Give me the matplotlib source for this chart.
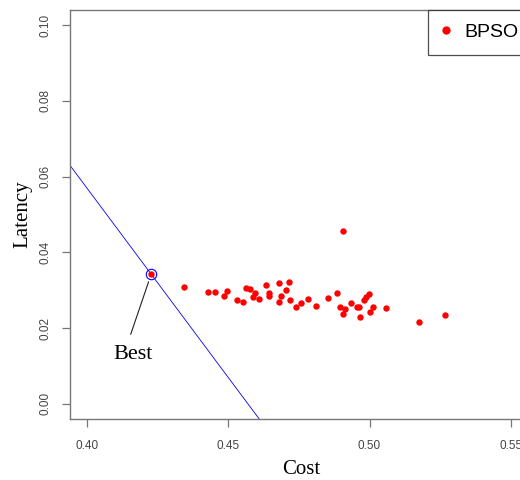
import matplotlib.pyplot as plt

# Pareto front from BPSO (cost vs latency)
cost = [0.4228, 0.4342, 0.4430, 0.4452, 0.4494, 0.4484, 0.4564, 0.4576, 0.4593,
        0.4588, 0.4608, 0.4531, 0.4552, 0.4632, 0.4644, 0.4644, 0.4680, 0.4714,
        0.4705, 0.4688, 0.4679, 0.4720, 0.4757, 0.4741, 0.4781, 0.4812, 0.4852,
        0.4906, 0.4885, 0.4896, 0.4913, 0.4907, 0.4935, 0.4954, 0.4962, 0.4968,
        0.4979, 0.4989, 0.4999, 0.5011, 0.5001, 0.5058, 0.5175, 0.5267]
latency = [0.03417, 0.03082, 0.02958, 0.02943, 0.02969, 0.02845, 0.03064, 0.03022,
           0.02916, 0.02811, 0.02766, 0.02748, 0.02695, 0.03135, 0.02932, 0.02845,
           0.03188, 0.03206, 0.03003, 0.02853, 0.02687, 0.02732, 0.02653, 0.02563,
           0.02766, 0.02582, 0.02792, 0.04557, 0.02916, 0.02555, 0.02503, 0.02371,
           0.02669, 0.02547, 0.02563, 0.02292, 0.02748, 0.02811, 0.02898, 0.02563,
           0.02416, 0.02537, 0.02152, 0.02337]
best_cost, best_latency = 0.4228, 0.03417
x_ticks = [0.40, 0.45, 0.50, 0.55]
y_ticks = [0.00, 0.02, 0.04, 0.06, 0.08, 0.10]

fig = plt.figure(figsize=(5.2, 4.8), dpi=100)
ax = fig.add_axes([70 / 520, 61 / 480, 462 / 520, 409 / 480])

ax.plot(cost, latency, 'o', color='red', markersize=4.6, markeredgewidth=0,
        label='BPSO', zorder=3)
ax.plot(best_cost, best_latency, 'o', mfc='none', mec='blue', markersize=7.5,
        markeredgewidth=0.8, zorder=4)
ax.axline((best_cost, best_latency), slope=-1, color='blue', lw=0.6)

# leader line and label for the best point
ax.plot([0.4155, 0.4218], [0.0184, 0.0322], color='#222222', lw=0.8)
ax.text(0.4163, 0.0129, 'Best', family='Liberation Serif', fontsize=16,
        ha='center', va='center')

ax.set_xlim(0.394, 0.5575)
ax.set_ylim(-0.004, 0.104)
ax.set_xticks(x_ticks)
ax.set_xticklabels(['%.2f' % t for t in x_ticks])
ax.set_yticks(y_ticks)
ax.set_yticklabels(['%.2f' % t for t in y_ticks], rotation=90, va='center')

for lab in ax.get_xticklabels() + ax.get_yticklabels():
    lab.set_family('Liberation Sans')
    lab.set_fontsize(8.5)
    lab.set_color('#444444')
ax.tick_params(length=6, width=0.9, color='#777777', pad=9)
ax.tick_params(axis='y', pad=7)
for s in ax.spines.values():
    s.set_color('#777777')
    s.set_linewidth(1.0)

ax.set_xlabel('Cost', family='Liberation Serif', fontsize=15)
ax.set_ylabel('Latency', family='Liberation Serif', fontsize=15)
ax.xaxis.set_label_coords(0.5, -0.100)
ax.yaxis.set_label_coords(-0.082, 0.5)

leg = ax.legend(loc='upper right', borderaxespad=0, fancybox=False,
                prop={'family': 'Liberation Sans', 'size': 14},
                handlelength=0.4, handletextpad=0.75, borderpad=0.7,
                markerscale=1.3)
leg.get_frame().set_edgecolor('#222222')
leg.get_frame().set_linewidth(0.9)

fig.savefig('out.png', dpi=100)
